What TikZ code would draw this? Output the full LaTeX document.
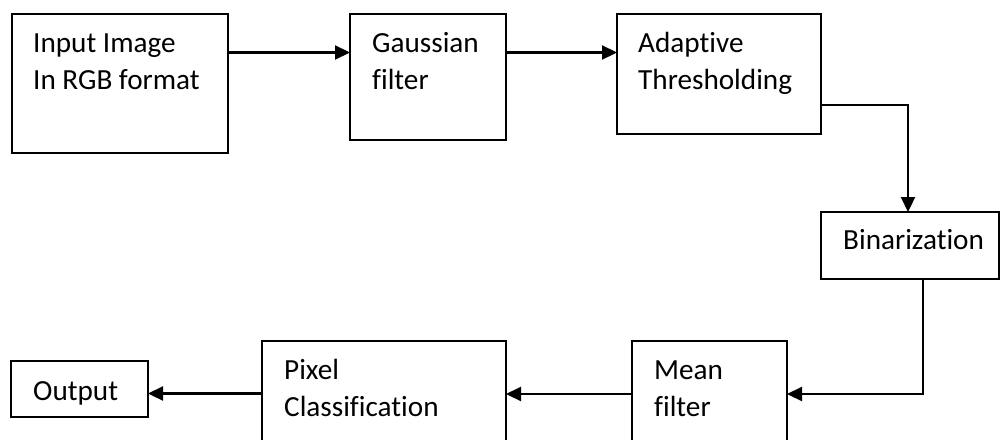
\documentclass[tikz,border=0pt]{standalone}
\usepackage{fontspec}
\setmainfont{Carlito}[Ligatures=NoCommon]
\usetikzlibrary{arrows.meta}
\tikzset{
  blk/.style={draw=black, line width=2.2pt, inner sep=0pt, outer sep=0pt, fill=white},
  lbl/.style={anchor=base west, inner sep=0pt, font=\fontsize{29.2}{37.5}\selectfont, align=left},
  arr/.style={line width=2.2pt, -{Triangle[length=15pt,width=14pt]}},
}
\begin{document}
\begin{tikzpicture}[x=1pt,y=-1pt]
\useasboundingbox (0,0) rectangle (1001,439);
\clip (0,0) rectangle (1001,439);

% blocks (centre, width, height)
\node[blk, minimum width=216pt, minimum height=139pt] (b1) at (120,83.5) {};
\node[blk, minimum width=156pt, minimum height=126pt] (b2) at (428,77) {};
\node[blk, minimum width=204pt, minimum height=120pt] (b3) at (719,74) {};
\node[blk, minimum width=178pt, minimum height=67pt]  (b4) at (910,245.5) {};
\node[blk, minimum width=155pt, minimum height=120pt] (b5) at (709.5,401) {};
\node[blk, minimum width=244pt, minimum height=120pt] (b6) at (384,401) {};
\node[blk, minimum width=137pt, minimum height=56pt]  (b7) at (79.5,389) {};

% block captions (two-line captions are placed by their last baseline)
\node[lbl] (t1) at (33,89.5)  {Input Image\\In RGB format};
\node[lbl] (t2) at (372,89.5) {Gaussian\\filter};
\node[lbl] (t3) at (638,89.5) {Adaptive\\Thresholding};
\node[lbl] (t4) at (843,249)  {Binarization};
\node[lbl] (t5) at (654,416.5) {Mean\\filter};
\node[lbl] (t6) at (284,416.5) {Pixel\\Classification};
\node[lbl] (t7) at (33,400)   {Output};

% routing points
\coordinate (r1) at (0,52.5);
\coordinate (k3) at (908,105);
\coordinate (k4) at (923,394);
\coordinate (k6) at (0,393.5);

% connectors
\draw[arr] (b1.east |- r1) -- (b2.west |- r1);
\draw[arr] (b2.east |- r1) -- (b3.west |- r1);
\draw[arr] (b3.east |- k3) -- (k3) -- (b4.north -| k3);
\draw[arr] (b4.south -| k4) -- (k4) -- (b5.east |- k4);
\draw[arr] (b5.west |- k4) -- (b6.east |- k4);
\draw[arr] (b6.west |- k6) -- (b7.east |- k6);
\end{tikzpicture}
\end{document}
